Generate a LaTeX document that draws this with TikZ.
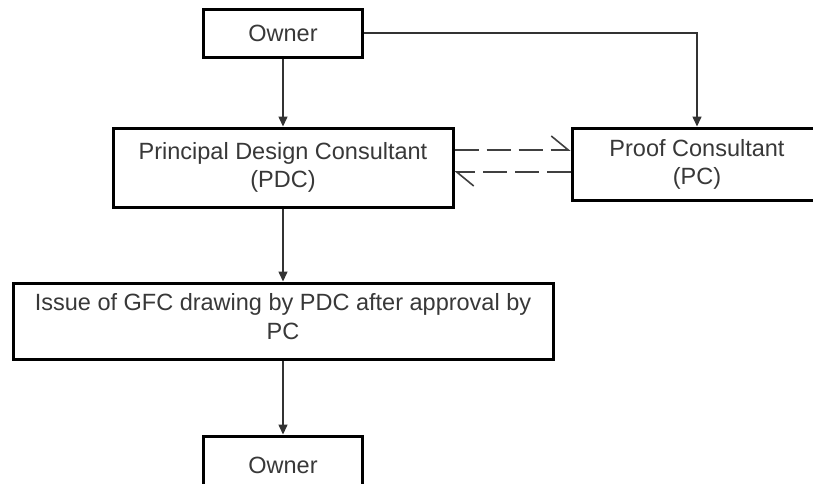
\documentclass[tikz,border=0pt]{standalone}
\usepackage{fontspec}
\setmainfont{Liberation Sans}
\usetikzlibrary{arrows.meta}
\begin{document}
\begin{tikzpicture}[x=1pt,y=-1pt,
  box/.style={draw=black, line width=3pt, rectangle, inner sep=0pt, align=center,
    text=black!78, font=\fontsize{23.5}{28}\selectfont},
  conn/.style={draw=black!80, line width=1.5pt, -{Triangle[length=10pt,width=9pt]}},
  dashc/.style={draw=black!75, line width=1.6pt, dash pattern=on 24pt off 8pt,
    -{Straight Barb[harpoon,length=17pt,width=28pt]}}]
\useasboundingbox (0,0) rectangle (813,483);
\clip (0,0) rectangle (813,483);
\fill[white] (0,0) rectangle (813,483);
\node[box, minimum width=159pt, minimum height=48pt] (o1) at (283,33) {Owner};
\node[box, minimum width=340pt, minimum height=79pt] (pdc) at (283,167.5) {Principal Design Consultant\\(PDC)};
\node[box, minimum width=250pt, minimum height=72pt] (pc) at (697,164) {Proof Consultant\\(PC)};
\node[box, minimum width=540pt, minimum height=76pt, text depth=9pt] (iss) at (283,321) {Issue of GFC drawing by PDC after approval by\\[1pt]PC};
\node[box, minimum width=159pt, minimum height=58pt] (o2) at (283,465) {Owner};
\coordinate (u) at (0,150);
\coordinate (l) at (0,172);
\draw[conn] (o1.south) -- (pdc.north);
\draw[conn] (o1.east) -| (pc.north);
\draw[conn] (pdc.south) -- (iss.north);
\draw[conn] (iss.south) -- (o2.north);
\draw[dashc] (pdc.east |- u) -- (pc.west |- u);
\draw[dashc] (pc.west |- l) -- (pdc.east |- l);
\end{tikzpicture}
\end{document}
